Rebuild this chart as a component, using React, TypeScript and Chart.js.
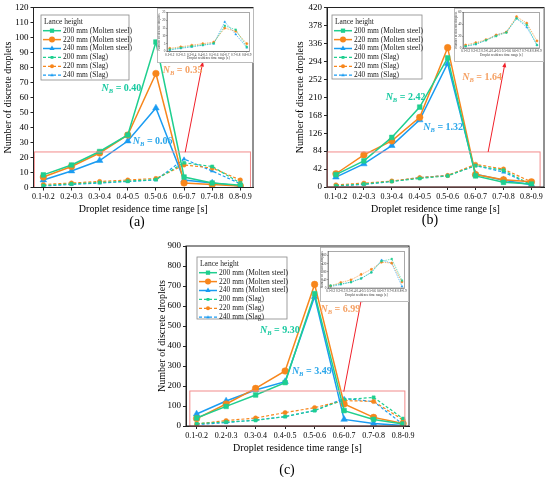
import { useEffect, useRef } from "react"
import { Chart, registerables, type ChartConfiguration, type Plugin } from "chart.js"

Chart.register(...registerables)

const FONT = "'Liberation Serif', 'Times New Roman', serif"
const GREEN = "#1fcf8f"
const ORANGE = "#f7861c"
const BLUE = "#1a9cf2"
const AXIS = "#222"
const ZOOM_RED = "#f28b8b"
const ARROW_RED = "#f0202a"

// 카테고리 / 범례
const categories = ["0.1-0.2", "0.2-0.3", "0.3-0.4", "0.4-0.5", "0.5-0.6", "0.6-0.7", "0.7-0.8", "0.8-0.9"]
const seriesNames = [
  "200 mm (Molten steel)",
  "220 mm (Molten steel)",
  "240 mm (Molten steel)",
  "200 mm (Slag)",
  "220 mm (Slag)",
  "240 mm (Slag)",
]

// (a)
const steelA200 = [8.4, 15, 24, 35, 97, 7, 3, 1.5]
const steelA220 = [7, 14, 23, 35, 76, 3, 2, 1]
const steelA240 = [5, 11, 18, 31, 53, 5, 3, 1]
const slagA200 = [1.3, 2.4, 3.3, 4.2, 5.3, 16.5, 14, 3]
const slagA220 = [2, 3, 4, 5, 6, 15, 13, 5]
const slagA240 = [1, 2, 3, 4, 5, 19, 11, 2.5]
const yTicksA = [0, 10, 20, 30, 40, 50, 60, 70, 80, 90, 100, 110, 120]
const insetTicksA = [0, 5, 10, 15, 20, 25]

// (b)
const steelB200 = [29, 61, 116, 187, 302, 26, 11, 7]
const steelB220 = [31, 75, 108, 163, 326, 29, 17, 12]
const steelB240 = [23, 54, 97, 157, 289, 30, 16, 5]
const slagB200 = [3, 7, 13, 20, 26, 50, 39, 5]
const slagB220 = [5, 9, 14, 22, 27, 53, 42, 12]
const slagB240 = [3, 6, 13, 22, 27, 50, 35, 5]
const yTicksB = [0, 42, 84, 126, 168, 210, 252, 294, 336, 378, 420]
const insetTicksB = [0, 10, 20, 30, 40, 50, 60]

// (c)
const steelC200 = [40, 98, 155, 217, 662, 77, 33, 10]
const steelC220 = [37, 110, 188, 275, 708, 110, 43, 12]
const steelC240 = [60, 125, 180, 222, 647, 33, 12, 2]
const slagC200 = [12, 20, 28, 47, 77, 132, 143, 37]
const slagC220 = [10, 27, 40, 67, 92, 127, 123, 30]
const slagC240 = [7, 17, 30, 47, 77, 138, 122, 8]
const yTicksC = [0, 100, 200, 300, 400, 500, 600, 700, 800, 900]
const insetTicksC = [0, 20, 40, 60, 80, 100, 120, 140, 160, 180]

const colors = [GREEN, ORANGE, BLUE, GREEN, ORANGE, BLUE]
const markers = ["rect", "circle", "triangle", "rect", "circle", "triangle"] as const

type Box = { left: number; top: number; width: number; height: number }
type Area = { l: number; r: number; t: number; b: number }
type Note = { x: number; y: number; value: string; color: string }

interface PanelSpec {
  box: Box
  area: Area
  yTitleX: number
  xTitleY: number
  xMin: number
  xMax: number
  yTicks: number[]
  series: number[][]
  legend: { x: number; y: number; w: number; h: number }
  notes: Note[]
  zoom: { x0: number; x1: number; y0: number; y1: number }
  arrow: { x0: number; y0: number; x1: number; y1: number }
}

interface InsetSpec {
  box: Box
  area: Area
  yTitleX: number
  xTitleY: number
  yTicks: number[]
  series: number[][]
}

function makeDatasets(series: number[][], names: string[], offset: number, small: boolean) {
  return series.map((values, i) => {
    const k = i + offset
    const slag = names[k].includes("Slag")
    const tri = markers[k] === "triangle"
    return {
      label: names[k],
      data: values.map((y, j) => ({ x: j + 1, y })),
      borderColor: colors[k],
      backgroundColor: colors[k],
      borderWidth: small ? 0.6 : slag ? 1.2 : 1.5,
      borderDash: slag ? (small ? [1.5, 1] : [3, 2]) : [],
      pointStyle: markers[k],
      pointRadius: small ? 1.1 : slag ? 2.2 : tri ? 3.8 : 3.3,
      pointBorderWidth: 0.5,
      tension: 0,
    }
  })
}

function drawMarker(ctx: CanvasRenderingContext2D, style: string, x: number, y: number, r: number) {
  ctx.beginPath()
  if (style === "circle") {
    ctx.arc(x, y, r, 0, Math.PI * 2)
  } else if (style === "rect") {
    const s = r * Math.SQRT1_2
    ctx.rect(x - s, y - s, s * 2, s * 2)
  } else {
    ctx.moveTo(x, y - r)
    ctx.lineTo(x + r * 0.866, y + r * 0.5)
    ctx.lineTo(x - r * 0.866, y + r * 0.5)
    ctx.closePath()
  }
  ctx.fill()
}

function decor(spec: PanelSpec): Plugin<"line"> {
  return {
    id: "decor",
    afterDatasetsDraw(chart) {
      const { ctx, scales } = chart
      const x = scales.x
      const y = scales.y
      ctx.save()
      // 확대 영역 박스
      const z = spec.zoom
      const zx0 = x.getPixelForValue(z.x0)
      const zx1 = x.getPixelForValue(z.x1)
      const zy0 = y.getPixelForValue(z.y0)
      const zy1 = y.getPixelForValue(z.y1)
      ctx.strokeStyle = ZOOM_RED
      ctx.lineWidth = 1
      ctx.strokeRect(zx0, zy1, zx1 - zx0, zy0 - zy1)
      // 화살표
      const a = spec.arrow
      const ax0 = x.getPixelForValue(a.x0)
      const ay0 = y.getPixelForValue(a.y0)
      const ax1 = x.getPixelForValue(a.x1)
      const ay1 = y.getPixelForValue(a.y1)
      const ang = Math.atan2(ay1 - ay0, ax1 - ax0)
      ctx.strokeStyle = ARROW_RED
      ctx.fillStyle = ARROW_RED
      ctx.beginPath()
      ctx.moveTo(ax0, ay0)
      ctx.lineTo(ax1 - Math.cos(ang) * 4, ay1 - Math.sin(ang) * 4)
      ctx.stroke()
      ctx.beginPath()
      ctx.moveTo(ax1, ay1)
      ctx.lineTo(ax1 - Math.cos(ang) * 5 + Math.sin(ang) * 2, ay1 - Math.sin(ang) * 5 - Math.cos(ang) * 2)
      ctx.lineTo(ax1 - Math.cos(ang) * 5 - Math.sin(ang) * 2, ay1 - Math.sin(ang) * 5 + Math.cos(ang) * 2)
      ctx.closePath()
      ctx.fill()
      ctx.restore()
    },
    afterDraw(chart) {
      const { ctx, chartArea, scales } = chart
      ctx.save()
      // 플롯 테두리
      ctx.strokeStyle = AXIS
      ctx.lineWidth = 1
      ctx.strokeRect(chartArea.left, chartArea.top, chartArea.right - chartArea.left, chartArea.bottom - chartArea.top)

      // N_B 주석
      ctx.textBaseline = "middle"
      ctx.textAlign = "left"
      spec.notes.forEach((n) => {
        const px = scales.x.getPixelForValue(n.x)
        const py = scales.y.getPixelForValue(n.y)
        ctx.fillStyle = n.color
        ctx.font = `italic bold 10px ${FONT}`
        ctx.fillText("N", px, py)
        let cx = px + ctx.measureText("N").width
        ctx.font = `italic bold 6.5px ${FONT}`
        ctx.fillText("B", cx, py + 3)
        cx += ctx.measureText("B").width
        ctx.font = `bold 10px ${FONT}`
        ctx.fillText(` = ${n.value}`, cx, py)
      })

      // 범례
      const lg = spec.legend
      const ox = lg.x - spec.box.left
      const oy = lg.y - spec.box.top
      ctx.fillStyle = "#fff"
      ctx.fillRect(ox, oy, lg.w, lg.h)
      ctx.strokeStyle = "#888"
      ctx.lineWidth = 0.8
      ctx.strokeRect(ox, oy, lg.w, lg.h)
      ctx.fillStyle = "#222"
      ctx.font = `7.5px ${FONT}`
      ctx.fillText("Lance height", ox + 3, oy + 7)
      chart.data.datasets.forEach((ds, i) => {
        const ry = oy + 15.7 + i * 8.9
        const col = ds.borderColor as string
        ctx.strokeStyle = col
        ctx.fillStyle = col
        ctx.lineWidth = (ds.borderWidth as number) || 1
        ctx.setLineDash(((ds as { borderDash?: number[] }).borderDash) || [])
        ctx.beginPath()
        ctx.moveTo(ox + 2, ry)
        ctx.lineTo(ox + 20, ry)
        ctx.stroke()
        ctx.setLineDash([])
        drawMarker(ctx, markers[i], ox + 11, ry, i < 3 ? 3 : 2)
        ctx.fillStyle = "#222"
        ctx.fillText(seriesNames[i], ox + 22, ry)
      })
      ctx.restore()
    },
  }
}

function Panel({ spec }: { spec: PanelSpec }) {
  const canvasRef = useRef<HTMLCanvasElement>(null)

  useEffect(() => {
    if (!canvasRef.current) return
    const { box, area } = spec
    const titleSize = 10
    const lh = titleSize * 1.2
    const yAxisWidth = area.l - box.left
    const xAxisHeight = box.top + box.height - area.b

    const config: ChartConfiguration<"line"> = {
      type: "line",
      data: { datasets: makeDatasets(spec.series, seriesNames, 0, false) as any },
      options: {
        animation: false,
        responsive: false,
        maintainAspectRatio: false,
        layout: { padding: { left: 0, top: area.t - box.top, right: box.left + box.width - area.r, bottom: 0 } },
        plugins: { legend: { display: false }, tooltip: { enabled: false } },
        scales: {
          x: {
            type: "linear",
            min: spec.xMin,
            max: spec.xMax,
            afterBuildTicks: (s) => {
              s.ticks = categories.map((_, i) => ({ value: i + 1 }))
            },
            afterFit: (s) => {
              s.height = xAxisHeight
            },
            ticks: {
              callback: (v) => categories[Number(v) - 1] ?? "",
              font: { family: FONT, size: 8 },
              color: "#000",
              padding: 2,
              maxRotation: 0,
              autoSkip: false,
            },
            grid: { drawOnChartArea: false, drawTicks: true, tickLength: 3, color: AXIS },
            border: { display: true, color: AXIS },
            title: {
              display: true,
              text: "Droplet residence time range [s]",
              font: { family: FONT, size: titleSize },
              color: "#000",
              padding: { top: 0, bottom: box.top + box.height - spec.xTitleY - lh / 2 },
            },
          },
          y: {
            min: 0,
            max: spec.yTicks[spec.yTicks.length - 1],
            afterBuildTicks: (s) => {
              s.ticks = spec.yTicks.map((value) => ({ value }))
            },
            afterFit: (s) => {
              s.width = yAxisWidth
            },
            ticks: { font: { family: FONT, size: 9 }, color: "#000", padding: 2 },
            grid: { drawOnChartArea: false, drawTicks: true, tickLength: 3, color: AXIS },
            border: { display: true, color: AXIS },
            title: {
              display: true,
              text: "Number of discrete droplets",
              font: { family: FONT, size: titleSize },
              color: "#000",
              padding: { top: spec.yTitleX - box.left - lh / 2, bottom: 0 },
            },
          },
        },
      },
      plugins: [decor(spec)],
    }

    const chart = new Chart(canvasRef.current, config)
    return () => chart.destroy()
  }, [spec])

  const { box } = spec
  return (
    <canvas
      ref={canvasRef}
      width={box.width}
      height={box.height}
      style={{ position: "absolute", left: box.left, top: box.top, width: box.width, height: box.height }}
    />
  )
}

const insetFrame: Plugin<"line"> = {
  id: "insetFrame",
  beforeDraw(chart) {
    const { ctx, width, height } = chart
    ctx.save()
    ctx.fillStyle = "#fff"
    ctx.fillRect(0, 0, width, height)
    ctx.restore()
  },
  afterDraw(chart) {
    const { ctx, chartArea, width, height } = chart
    ctx.save()
    ctx.strokeStyle = "#aaa"
    ctx.lineWidth = 0.8
    ctx.strokeRect(0.5, 0.5, width - 1, height - 1)
    ctx.strokeStyle = "#555"
    ctx.lineWidth = 0.5
    ctx.strokeRect(chartArea.left, chartArea.top, chartArea.right - chartArea.left, chartArea.bottom - chartArea.top)
    ctx.restore()
  },
}

function Inset({ spec }: { spec: InsetSpec }) {
  const canvasRef = useRef<HTMLCanvasElement>(null)

  useEffect(() => {
    if (!canvasRef.current) return
    const { box, area } = spec
    const fs = 3.3
    const lh = fs * 1.2
    const config: ChartConfiguration<"line"> = {
      type: "line",
      data: { datasets: makeDatasets(spec.series, seriesNames, 3, true) as any },
      options: {
        animation: false,
        responsive: false,
        maintainAspectRatio: false,
        layout: { padding: { left: 0, top: area.t - box.top, right: box.left + box.width - area.r, bottom: 0 } },
        plugins: { legend: { display: false }, tooltip: { enabled: false } },
        scales: {
          x: {
            type: "linear",
            min: 0.75,
            max: 8.25,
            afterBuildTicks: (s) => {
              s.ticks = categories.map((_, i) => ({ value: i + 1 }))
            },
            afterFit: (s) => {
              s.height = box.top + box.height - area.b
            },
            ticks: {
              callback: (v) => categories[Number(v) - 1] ?? "",
              font: { family: FONT, size: fs },
              color: "#333",
              padding: 0.5,
              maxRotation: 0,
              autoSkip: false,
            },
            grid: { drawOnChartArea: false, tickLength: 1, color: "#555", lineWidth: 0.5 },
            border: { color: "#555", width: 0.5 },
            title: {
              display: true,
              text: "Droplet residence time range [s]",
              font: { family: FONT, size: fs },
              color: "#333",
              padding: { top: 0, bottom: box.top + box.height - spec.xTitleY - lh / 2 },
            },
          },
          y: {
            min: 0,
            max: spec.yTicks[spec.yTicks.length - 1],
            afterBuildTicks: (s) => {
              s.ticks = spec.yTicks.map((value) => ({ value }))
            },
            afterFit: (s) => {
              s.width = area.l - box.left
            },
            ticks: { font: { family: FONT, size: fs }, color: "#333", padding: 0.5 },
            grid: { drawOnChartArea: false, tickLength: 1, color: "#555", lineWidth: 0.5 },
            border: { color: "#555", width: 0.5 },
            title: {
              display: true,
              text: "Number of discrete droplets",
              font: { family: FONT, size: fs },
              color: "#333",
              padding: { top: spec.yTitleX - box.left - lh / 2, bottom: 0 },
            },
          },
        },
      },
      plugins: [insetFrame],
    }
    const chart = new Chart(canvasRef.current, config)
    return () => chart.destroy()
  }, [spec])

  const { box } = spec
  return (
    <canvas
      ref={canvasRef}
      width={box.width}
      height={box.height}
      style={{ position: "absolute", left: box.left, top: box.top, width: box.width, height: box.height }}
    />
  )
}

const panelA: PanelSpec = {
  box: { left: 0, top: 0, width: 275, height: 232 },
  area: { l: 33.5, r: 253, t: 7.5, b: 187.5 },
  yTitleX: 8,
  xTitleY: 209.5,
  xMin: 0.65,
  xMax: 8.45,
  yTicks: yTicksA,
  series: [steelA200, steelA220, steelA240, slagA200, slagA220, slagA240],
  legend: { x: 41, y: 15, w: 88, h: 65 },
  notes: [
    { x: 3.07, y: 66, value: "0.40", color: "#17c9a0" },
    { x: 5.24, y: 78, value: "0.35", color: "#f5a062" },
    { x: 4.18, y: 31, value: "0.06", color: "#2aa6ea" },
  ],
  zoom: { x0: 0.68, x1: 8.36, y0: 0, y1: 23.7 },
  arrow: { x0: 6.04, y0: 23.5, x1: 6.67, y1: 84 },
}

const panelB: PanelSpec = {
  box: { left: 275, top: 0, width: 275, height: 232 },
  area: { l: 327, r: 544, t: 7.5, b: 187 },
  yTitleX: 300,
  xTitleY: 209,
  xMin: 0.68,
  xMax: 8.45,
  yTicks: yTicksB,
  series: [steelB200, steelB220, steelB240, slagB200, slagB220, slagB240],
  legend: { x: 332, y: 15, w: 90, h: 64 },
  notes: [
    { x: 2.78, y: 210, value: "2.42", color: "#17c9a0" },
    { x: 5.52, y: 257, value: "1.64", color: "#f5a062" },
    { x: 4.13, y: 140, value: "1.32", color: "#2aa6ea" },
  ],
  zoom: { x0: 0.69, x1: 8.31, y0: 0, y1: 82 },
  arrow: { x0: 6.45, y0: 82, x1: 7.06, y1: 292 },
}

const panelC: PanelSpec = {
  box: { left: 140, top: 238, width: 280, height: 225 },
  area: { l: 186, r: 409, t: 246, b: 426 },
  yTitleX: 162,
  xTitleY: 448,
  xMin: 0.64,
  xMax: 8.2,
  yTicks: yTicksC,
  series: [steelC200, steelC220, steelC240, slagC200, slagC220, slagC240],
  legend: { x: 197, y: 257, w: 90, h: 62 },
  notes: [
    { x: 3.15, y: 480, value: "9.30", color: "#17c9a0" },
    { x: 5.2, y: 585, value: "6.99", color: "#f5a062" },
    { x: 4.23, y: 275, value: "3.49", color: "#2aa6ea" },
  ],
  zoom: { x0: 0.77, x1: 8.06, y0: 0, y1: 175 },
  arrow: { x0: 5.99, y0: 172, x1: 6.6, y1: 645 },
}

const insetA: InsetSpec = {
  box: { left: 157, top: 8, width: 97, height: 55 },
  area: { l: 167, r: 252, t: 10.5, b: 51.5 },
  yTitleX: 159.5,
  xTitleY: 58.5,
  yTicks: insetTicksA,
  series: [slagA200, slagA220, slagA240],
}

const insetB: InsetSpec = {
  box: { left: 454, top: 8, width: 90, height: 54 },
  area: { l: 463, r: 543, t: 10, b: 48 },
  yTitleX: 456.5,
  xTitleY: 55,
  yTicks: insetTicksB,
  series: [slagB200, slagB220, slagB240],
}

const insetC: InsetSpec = {
  box: { left: 320, top: 247, width: 89, height: 55 },
  area: { l: 328, r: 407, t: 250, b: 288 },
  yTitleX: 322,
  xTitleY: 295,
  yTicks: insetTicksC,
  series: [slagC200, slagC220, slagC240],
}

function PanelLabel({ text, x, y }: { text: string; x: number; y: number }) {
  return (
    <div
      style={{
        position: "absolute",
        left: x - 20,
        top: y - 8,
        width: 40,
        height: 16,
        lineHeight: "16px",
        textAlign: "center",
        fontFamily: FONT,
        fontSize: 14,
        color: "#000",
      }}
    >
      {text}
    </div>
  )
}

export default function App() {
  return (
    <div style={{ position: "absolute", left: 0, top: 0, width: 550, height: 477, background: "#fff", overflow: "hidden" }}>
      <Panel spec={panelA} />
      <Panel spec={panelB} />
      <Panel spec={panelC} />
      <Inset spec={insetA} />
      <Inset spec={insetB} />
      <Inset spec={insetC} />
      <PanelLabel text="(a)" x={137} y={222} />
      <PanelLabel text="(b)" x={430} y={220} />
      <PanelLabel text="(c)" x={287} y={470} />
    </div>
  )
}
